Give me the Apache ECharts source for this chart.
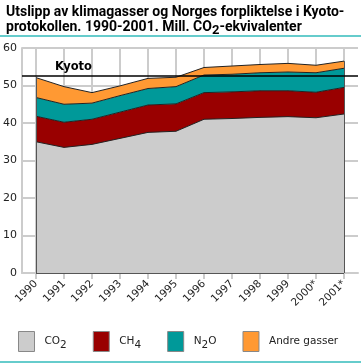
<!DOCTYPE html>
<html>
<head>
<meta charset="utf-8">
<script src="https://cdn.jsdelivr.net/npm/echarts@6/dist/echarts.min.js"></script>
<style>
html,body{margin:0;padding:0;background:#fff;}
#chart{width:361px;height:363px;}
</style>
</head>
<body>
<div id="chart"></div>
<script>
// ---- data ----
const categories = ['1990','1991','1992','1993','1994','1995','1996','1997','1998','1999','2000*','2001*'];
const co2   = [35.0, 33.5, 34.3, 35.9, 37.5, 37.8, 41.0, 41.2, 41.5, 41.7, 41.4, 42.4];
const ch4   = [6.8, 6.7, 6.7, 7.0, 7.3, 7.3, 7.1, 7.1, 7.1, 6.9, 6.8, 7.1];
const n2o   = [5.0, 4.8, 4.3, 4.4, 4.4, 4.6, 4.7, 4.7, 4.8, 5.0, 5.2, 5.1];
const other = [5.3, 4.7, 2.8, 2.6, 2.7, 2.5, 2.0, 2.2, 2.2, 2.3, 2.0, 1.9];
const kyoto = 52.5;
const yMin = 0, yMax = 60, yStep = 10;
const seriesNames = ['CO2', 'CH4', 'N2O', 'Andre gasser'];
const legendLabels = {'CO2': 'CO{s|2}', 'CH4': 'CH{s|4}', 'N2O': 'N{s|2}O', 'Andre gasser': 'Andre gasser'};
const colors = ['#cccccc', '#990000', '#009999', '#ff9933'];

const totals = categories.map((c, i) => co2[i] + ch4[i] + n2o[i] + other[i]);
const last = categories.length - 1;

const FONT = 'DejaVu Sans';

function areaSeries(name, data, color) {
  return {
    name: name, type: 'line', stack: 'total', data: data,
    symbol: 'none', showSymbol: false, smooth: false,
    itemStyle: {color: color},
    lineStyle: {color: '#222', width: 1},
    areaStyle: {color: color, opacity: 1},
    emphasis: {disabled: true},
    silent: true, z: 3
  };
}

const chart = echarts.init(document.getElementById('chart'), null, {renderer: 'canvas'});
chart.setOption({
  animation: false,
  backgroundColor: '#fff',
  title: {
    left: 1, top: 0,
    text: '{b|Utslipp av klimagasser og Norges forpliktelse i Kyoto-}\n{b|protokollen. 1990-2001. Mill. CO}{s|2}{b|-ekvivalenter}',
    textStyle: {
      rich: {
        b: {fontFamily: 'Roboto', fontWeight: 'bold', fontSize: 14, color: '#000', lineHeight: 15},
        s: {fontFamily: 'Roboto', fontWeight: 'bold', fontSize: 13, color: '#000', lineHeight: 15, padding: [7, 0, 0, 0]}
      }
    }
  },
  graphic: [
    {type: 'rect', left: 0, top: 35, shape: {width: 361, height: 2}, style: {fill: '#66cccc'}, silent: true},
    {type: 'rect', left: 0, top: 361, shape: {width: 361, height: 2}, style: {fill: '#66cccc'}, silent: true}
  ],
  legend: {
    data: seriesNames,
    bottom: 6, left: 13,
    icon: 'rect', itemWidth: 16, itemHeight: 20, itemGap: 26,
    itemStyle: {borderColor: '#888', borderWidth: 1},
    formatter: n => legendLabels[n],
    textStyle: {
      fontFamily: FONT, fontSize: 10.5, color: '#222', padding: [0, 0, 0, 5],
      rich: {s: {fontFamily: FONT, fontSize: 10.5, color: '#222', padding: [7, 0, 0, 0]}}
    },
    selectedMode: false
  },
  grid: {left: 22, right: 3, top: 48, bottom: 90, containLabel: false},
  xAxis: {
    type: 'category', data: categories, boundaryGap: true,
    axisLine: {show: true, lineStyle: {color: '#cccccc', width: 2}},
    axisTick: {show: true, alignWithLabel: true, length: 6, lineStyle: {color: '#cccccc', width: 2}},
    axisLabel: {rotate: 45, margin: 9, fontFamily: FONT, fontSize: 10.5, color: '#222', interval: 0},
    splitLine: {show: false}
  },
  yAxis: {
    type: 'value', min: yMin, max: yMax, interval: yStep,
    axisLine: {show: true, lineStyle: {color: '#cccccc', width: 2}},
    axisTick: {show: false},
    axisLabel: {margin: 5, fontFamily: FONT, fontSize: 11, color: '#222'},
    splitLine: {show: true, lineStyle: {color: '#cccccc', width: 2}}
  },
  series: [
    {
      name: '_grid', type: 'line', data: [], silent: true,
      markLine: {
        silent: true, symbol: 'none', z: 1, animation: false,
        label: {show: false},
        lineStyle: {color: '#cccccc', width: 2, type: 'solid'},
        emphasis: {disabled: true},
        data: categories.map(c => ({xAxis: c}))
      }
    },
    areaSeries(seriesNames[0], co2, colors[0]),
    areaSeries(seriesNames[1], ch4, colors[1]),
    areaSeries(seriesNames[2], n2o, colors[2]),
    areaSeries(seriesNames[3], other, colors[3]),
    {
      name: '_edges', type: 'line', data: [], silent: true,
      markLine: {
        silent: true, symbol: 'none', z: 6, animation: false,
        emphasis: {disabled: true},
        lineStyle: {color: '#555', width: 1, type: 'solid'},
        label: {show: false},
        data: [
          [{coord: [0, 0]}, {coord: [0, totals[0]]}],
          [{coord: [last, 0]}, {coord: [last, totals[last]]}],
          [{coord: [0, 0]}, {coord: [last, 0]}]
        ]
      }
    },
    {
      name: '_kyoto', type: 'line', data: [], silent: true,
      markLine: {
        silent: true, symbol: 'none', z: 7, animation: false,
        emphasis: {disabled: true},
        lineStyle: {color: '#000', width: 1.5, type: 'solid'},
        label: {
          show: true, position: 'insideStartTop', formatter: 'Kyoto',
          fontFamily: FONT, fontWeight: 'bold', fontSize: 11.5, color: '#000',
          padding: [0, 0, 0, 30], distance: 3
        },
        data: [{yAxis: kyoto}]
      }
    }
  ]
});
</script>
</body>
</html>
